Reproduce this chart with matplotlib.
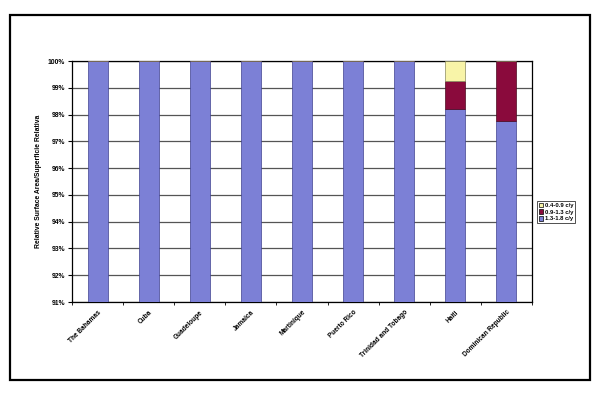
import matplotlib
matplotlib.use("Agg")
import matplotlib.pyplot as plt
from matplotlib.patches import Rectangle, Patch
import numpy as np

categories = ["The Bahamas", "Cuba", "Guadeloupe", "Jamaica", "Martinique",
              "Puerto Rico", "Trinidad and Tobago", "Haiti", "Dominican Republic"]
s_13_18 = [100, 100, 100, 100, 100, 100, 100, 98.2, 97.75]
s_09_13 = [0, 0, 0, 0, 0, 0, 0, 1.05, 2.25]
s_04_09 = [0, 0, 0, 0, 0, 0, 0, 0.75, 0]
series_names = ["1.3-1.8 c/y", "0.9-1.3 c/y", "0.4-0.9 c/y"]
yticks = [91, 92, 93, 94, 95, 96, 97, 98, 99, 100]

colors = ["#7C80D6", "#8A0A3C", "#F8F4A8"]

fig = plt.figure(figsize=(6, 3.95), dpi=100)
plt.rcParams['font.family'] = ['Liberation Sans', 'DejaVu Sans']

# outer frame
fig.patches.append(Rectangle((10/600, 1-380/395), 580/600, 365/395,
                             transform=fig.transFigure, fill=False,
                             edgecolor='black', lw=1.6))

ax = fig.add_axes([72/600, 1-302/395, 460/600, 241/395])
x = np.arange(len(categories))
w = 0.39
b0 = np.array(s_13_18)
b1 = np.array(s_09_13)
b2 = np.array(s_04_09)
ax.bar(x, b0, w, color=colors[0], edgecolor='#40428f', lw=0.5, zorder=3)
ax.bar(x, b1, w, bottom=b0, color=colors[1], edgecolor='#4a0a20', lw=0.5, zorder=3)
ax.bar(x, b2, w, bottom=b0 + b1, color=colors[2], edgecolor='#8a8a60', lw=0.5, zorder=3)

ax.set_xlim(-0.5, len(categories) - 0.5)
ax.set_ylim(91, 100)
ax.set_yticks(yticks)
ax.set_yticklabels([f"{t}%" for t in yticks], fontsize=4.9, fontweight='bold')
ax.yaxis.grid(True, color='#555555', lw=0.9, zorder=0)
ax.set_xticks(x)
ax.set_xticklabels(categories, rotation=45, ha='right', rotation_mode='anchor',
                   fontsize=4.7, fontweight='bold')
ax.tick_params(axis='x', length=0, pad=5)
ax.set_xticks(np.arange(len(categories) + 1) - 0.5, minor=True)
ax.tick_params(axis='x', which='minor', length=2.5, direction='out')
ax.tick_params(axis='y', length=3, pad=2)
ax.set_ylabel("Relative Surface Area/Superficie Relativa", fontsize=4.9,
              fontweight='bold', labelpad=4)
for sp in ax.spines.values():
    sp.set_linewidth(0.9)
    sp.set_color('black')

handles = [Patch(facecolor=colors[2], edgecolor='black', lw=0.5, label=series_names[2]),
           Patch(facecolor=colors[1], edgecolor='black', lw=0.5, label=series_names[1]),
           Patch(facecolor=colors[0], edgecolor='black', lw=0.5, label=series_names[0])]
leg = fig.legend(handles=handles, loc='upper left',
                 bbox_to_anchor=(537/600, 1-201/395), fontsize=4.2,
                 frameon=True, fancybox=False, edgecolor='black',
                 handlelength=0.8, handleheight=0.8, handletextpad=0.3,
                 borderpad=0.3, labelspacing=0.25, borderaxespad=0)
leg.get_frame().set_linewidth(0.6)
for t in leg.get_texts():
    t.set_fontweight('bold')

fig.savefig("out.png", dpi=100)
